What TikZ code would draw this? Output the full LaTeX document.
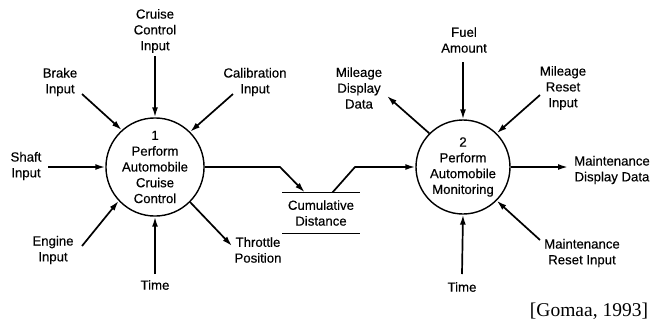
\documentclass[tikz,border=0pt]{standalone}
\usepackage{fontspec}
\setmainfont{Liberation Sans}[FakeBold=0.35,AutoFakeBold=0.35]
\newfontfamily\citefont{Liberation Serif}
\usetikzlibrary{arrows.meta,calc}

\begin{document}
\begin{tikzpicture}[x=1pt,y=-1pt,
  lbl/.style={align=center,inner sep=0pt,font=\bfseries\fontsize{13.2}{15.8}\selectfont},
  proc/.style={circle,draw,line width=1.4pt,inner sep=0pt,minimum size=#1,
    align=center,font=\bfseries\fontsize{13.2}{15.8}\selectfont},
  flow/.style={line width=1.7pt,-{Latex[length=10pt,width=6pt]}},
  storeline/.style={line width=1.3pt}]
\useasboundingbox (0,0) rectangle (653,322);

% processes
\node[proc=96pt] (c1) at (155,167) {1\\Perform\\Automobile\\Cruise\\Control};
\node[proc=94pt] (c2) at (463,167) {2\\Perform\\Automobile\\Monitoring};

% data store
\node[minimum width=77pt,minimum height=41pt,inner sep=0pt,align=center,
  font=\bfseries\fontsize{13.2}{15.8}\selectfont] (store) at (321,213) {Cumulative\\Distance};
\draw[storeline] (store.north west) -- (store.north east);
\draw[storeline] (store.south west) -- (store.south east);

% flow labels, process 1
\node[lbl] (cci) at (155,31) {Cruise\\Control\\Input};
\node[lbl] (brk) at (60,82) {Brake\\Input};
\node[lbl] (cal) at (255,82) {Calibration\\Input};
\node[lbl] (sft) at (26,166) {Shaft\\Input};
\node[lbl] (eng) at (53,250) {Engine\\Input};
\node[lbl] (tm1) at (155,285) {Time};
\node[lbl] (thr) at (258,250) {Throttle\\Position};

% flow labels, process 2
\node[lbl] (fuel) at (464,40) {Fuel\\Amount};
\node[lbl] (mdd) at (359,88) {Mileage\\Display\\Data};
\node[lbl] (mri) at (563,88) {Mileage\\Reset\\Input};
\node[lbl] (mtd) at (612,170) {Maintenance\\Display Data};
\node[lbl] (mti) at (582,253) {Maintenance\\Reset Input};
\node[lbl] (tm2) at (462,287) {Time};

% free ends of the flows
\coordinate (a-cci) at (155,56);
\coordinate (a-brk) at (82,94);
\coordinate (a-cal) at (233,94);
\coordinate (a-sft) at (48,167);
\coordinate (a-eng) at (82,246);
\coordinate (a-tm1) at (155,274);
\coordinate (a-thr) at (232,246);
\coordinate (a-fuel) at (463,62);
\coordinate (a-mdd) at (387,96);
\coordinate (a-mri) at (540,95);
\coordinate (a-mtd) at (568,167);
\coordinate (a-mti) at (540,240);
\coordinate (a-tm2) at (462,274);

% flows into and out of process 1
\draw[flow] (a-cci) -- (c1.north);
\draw[flow] (a-brk) -- (c1.132);
\draw[flow] (a-cal) -- (c1.45);
\draw[flow] (a-sft) -- (c1.west);
\draw[flow] (a-eng) -- (c1.223);
\draw[flow] (a-tm1) -- (c1.south);
\draw[flow] (c1.-45) -- (a-thr);

% flows through the data store
\draw[flow] (c1.east) -- (280,167) -- ($(store.north west)!0.29!(store.north east)$);
\draw[flow] ($(store.north west)!0.65!(store.north east)$) -- (355,167) -- (c2.west);

% flows into and out of process 2
\draw[flow] (a-fuel) -- (c2.north);
\draw[flow] (c2.135) -- (a-mdd);
\draw[flow] (a-mri) -- (c2.45);
\draw[flow] (c2.east) -- (a-mtd);
\draw[flow] (a-mti) -- (c2.-45);
\draw[flow] (a-tm2) -- (c2.south);

% source
\node[inner sep=0pt,font=\citefont\fontsize{19.5}{22}\selectfont] (src) at (589,311) {[Gomaa, 1993]};
\end{tikzpicture}
\end{document}
